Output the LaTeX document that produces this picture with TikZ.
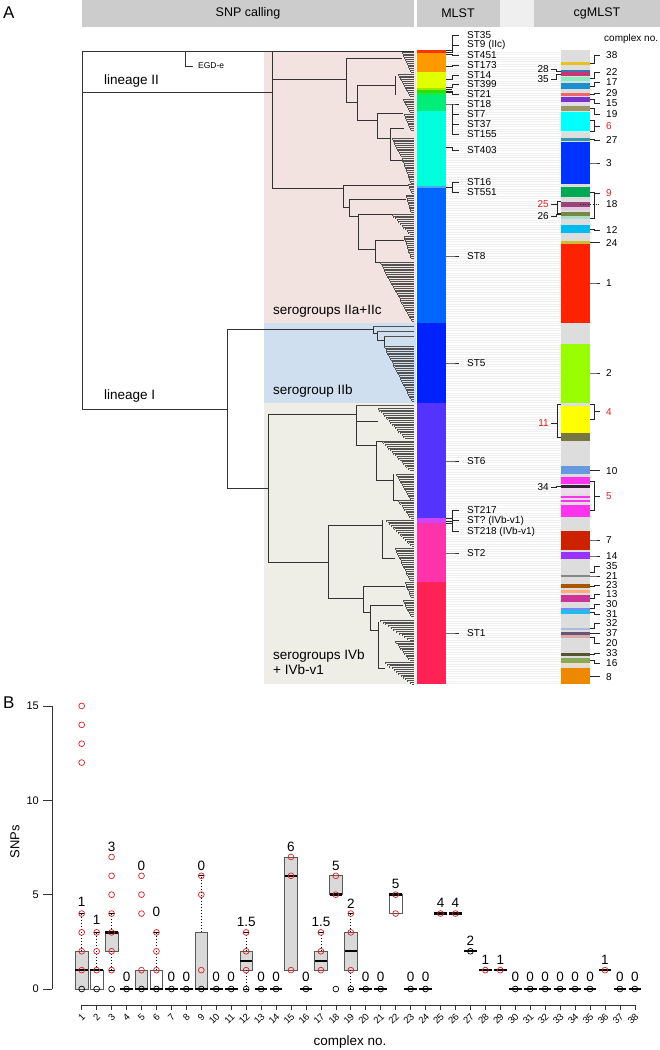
\documentclass[tikz,border=0pt]{standalone}
\usepackage{fontspec}
\setmainfont{Liberation Sans}
\definecolor{hdr}{HTML}{CCCCCC}
\definecolor{hdrl}{HTML}{EFEFEF}
\definecolor{pinkbg}{HTML}{F2E2E0}
\definecolor{bluebg}{HTML}{CFDFF0}
\definecolor{beigebg}{HTML}{EEEEE6}
\definecolor{cgbg}{HTML}{DDDDDD}
\definecolor{myred}{HTML}{E02020}
\definecolor{boxg}{HTML}{D9D9D9}
\tikzset{
  branch/.style={draw=black!80, line width=0.7pt},
  tipl/.style={draw=black!68, line width=0.45pt},
  ld/.style={draw=black!85, line width=0.6pt},
  stlab/.style={font=\fontsize{10}{10}\selectfont, inner sep=0pt, anchor=west},
  clab/.style={font=\fontsize{10}{10}\selectfont, inner sep=0pt},
  grplab/.style={font=\fontsize{13.5}{15}\selectfont, inner sep=0pt, anchor=west, align=left},
  hlab/.style={font=\fontsize{12.5}{13}\selectfont, inner sep=0pt},
  boxst/.style={draw=black!65, line width=0.7pt},
  medline/.style={draw=black, line width=2.4pt},
  whisk/.style={draw=black, line width=0.7pt, dash pattern=on 1pt off 2pt},
  staple/.style={draw=black, line width=0.7pt},
  circ/.style={line width=0.7pt},
  medlab/.style={font=\fontsize{13.5}{14}\selectfont, inner sep=0pt},
  declare function={px(\i)=81.7+14.95*(\i-1); py(\v)=989-18.87*\v;}
}
% tree comb (caterpillar clade)
\newcommand{\comb}[4]{%
 \pgfmathtruncatemacro{\cn}{max(1,(#3-#2)/1.7)}%
 \foreach \k in {0,...,\cn}{%
   \pgfmathsetmacro{\cy}{#2+\k*(#3-#2)/\cn}%
   \pgfmathsetmacro{\cx}{#1+\k*(#4-#1)/\cn}%
   \pgfmathsetmacro{\cyn}{#2+(\k+1)*(#3-#2)/\cn}%
   \draw[tipl] (\cx,\cy) -- (414,\cy);
   \ifnum\k<\cn \draw[tipl] (\cx,\cy) -- (\cx,\cyn);\fi
 }}
\newcommand{\band}[3]{\definecolor{bandc}{HTML}{#3}\fill[bandc] (561,#1) rectangle (590,#2);}
\newcommand{\mband}[3]{\definecolor{bandc}{HTML}{#3}\fill[bandc] (417,#1) rectangle (446,#2);}
% MLST labels: name, text, label y, bar y
\newcommand{\stl}[4]{\node[stlab] (#1) at (467,#3) {#2}; \draw[ld] (446,#4) -- (452,#4) -- (452,#3) -- (459,#3);}
% cgMLST right label: [colour] text, label y, band y
\newcommand{\cgR}[4][black]{\node[clab,text=#1,anchor=west] (r#2) at (606,#3) {#2}; \draw[ld] (590,#4) -- (594.5,#4) -- (594.5,#3) -- (600,#3);}
% right bracket: [colour] text, label y, y1, y2
\newcommand{\cgRB}[5][myred]{\node[clab,text=#1,anchor=west] (r#2) at (606,#3) {#2}; \draw[ld] (590,#4) -- (594.5,#4) -- (594.5,#5) -- (590,#5); \draw[ld] (594.5,#3) -- (600,#3);}
% left label
\newcommand{\cgL}[4][black]{\node[clab,text=#1,anchor=east] (l#2) at (549,#3) {#2}; \draw[ld] (561,#4) -- (556,#4) -- (556,#3) -- (551,#3);}
\newcommand{\cgLB}[5][myred]{\node[clab,text=#1,anchor=east] (l#2) at (549,#3) {#2}; \draw[ld] (561,#4) -- (557,#4) -- (557,#5) -- (561,#5); \draw[ld] (557,#3) -- (551,#3);}
% boxplot helpers
\newcommand{\boxr}[4]{\draw[boxst,fill=#4] ({px(#1)-6.3},{py(#2)}) rectangle ({px(#1)+6.3},{py(#3)});}
\newcommand{\whisk}[3]{\draw[whisk] ({px(#1)},{py(#2)}) -- ({px(#1)},{py(#3)}); \draw[staple] ({px(#1)-3},{py(#3)}) -- ({px(#1)+3},{py(#3)});}
\newcommand{\med}[2]{\draw[medline] ({px(#1)-6.3},{py(#2)}) -- ({px(#1)+6.3},{py(#2)});}
\newcommand{\rp}[2]{\draw[circ,draw=myred] ({px(#1)},{py(#2)}) circle (2.9);}
\newcommand{\bp}[2]{\draw[circ,draw=black] ({px(#1)},{py(#2)}) circle (2.9);}
\newcommand{\mlab}[3]{\node[medlab] (m#1) at ({px(#1)},#3) {#2};}
\newcommand{\zero}[1]{\med{#1}{0}\bp{#1}{0}\mlab{#1}{0}{976.7}}
\begin{document}
\begin{tikzpicture}[x=1pt,y=-1pt]
\useasboundingbox (0,0) rectangle (660,1050);
\fill[white] (0,0) rectangle (660,1050);
% ---------- panel labels ----------
\node[font=\fontsize{17}{18}\selectfont, inner sep=0pt, anchor=west] (pA) at (3,13) {A};
\node[font=\fontsize{17}{18}\selectfont, inner sep=0pt, anchor=west] (pB) at (3,703) {B};
% ---------- header ----------
\fill[hdr] (82,0) rectangle (414,27);
\fill[hdr] (417,0) rectangle (500,27);
\fill[hdrl] (500,0) rectangle (534,27);
\fill[hdr] (534,0) rectangle (660,27);
\node[hlab] (h1) at (248,13.5) {SNP calling};
\node[hlab] (h2) at (458,13.5) {MLST};
\node[hlab] (h3) at (597,13.5) {cgMLST};
% ---------- backgrounds ----------
\fill[pinkbg] (264,51) rectangle (416,323);
\fill[bluebg] (264,323) rectangle (416,403);
\fill[beigebg] (264,403) rectangle (416,684);
\foreach \yy in {52,54.4,...,684} \draw[black!6, line width=0.5pt] (446,\yy) -- (561,\yy);
% ---------- tree: deep branches ----------
\draw[branch] (82,51) -- (82,409);
\draw[branch] (82,51) -- (414,51);
\draw[branch] (185.5,51) -- (185.5,66) -- (192.5,66);
\node[font=\fontsize{8.5}{9}\selectfont, inner sep=0pt, anchor=west] (egd) at (198,66) {EGD-e};
\draw[branch] (82,92) -- (272,92);
\draw[branch] (82,409) -- (227,409);
\draw[branch] (227,329) -- (227,488);
% lineage II
\draw[branch] (272,51) -- (272,188);
\draw[branch] (272,79) -- (346,79);
\draw[branch] (346,58) -- (346,102);
\draw[branch] (346,58) -- (402,58);
\comb{402}{52}{72}{411}
\draw[branch] (346,102) -- (357,102);
\draw[branch] (357,85) -- (357,120);
\draw[branch] (357,85) -- (395,85);
\draw[branch] (395,76) -- (395,95);
\comb{398}{74}{96}{410}
\draw[branch] (357,120) -- (377,120);
\draw[branch] (377,113) -- (377,138);
\draw[branch] (377,113) -- (403,113);
\comb{403}{99}{112}{410}
\draw[branch] (377,138) -- (390,138);
\draw[branch] (390,128) -- (390,160);
\draw[branch] (390,128) -- (404,128);
\comb{404}{114}{130}{411}
\comb{392}{138}{156}{401}
\draw[branch] (390,160) -- (402,160);
\comb{402}{158}{183}{411}
\draw[branch] (272,188) -- (343,188);
\draw[branch] (343,185) -- (343,207);
\draw[branch] (343,185) -- (408,185);
\comb{408}{184}{193}{412}
\draw[branch] (343,207) -- (349,207);
\draw[branch] (349,199) -- (349,216);
\draw[branch] (349,199) -- (406,199);
\comb{406}{195}{212}{411}
\draw[branch] (349,216) -- (358,216);
\draw[branch] (358,214) -- (358,249);
\draw[branch] (358,214) -- (392,214);
\comb{392}{214}{234}{410}
\draw[branch] (358,249) -- (375,249);
\draw[branch] (375,240) -- (375,262);
\draw[branch] (375,240) -- (404,240);
\comb{404}{236}{258}{411}
\draw[branch] (375,262) -- (380,262);
\comb{380}{262}{321}{412}
% lineage I, IIb
\draw[branch] (227,329) -- (373,329);
\draw[branch] (373,326) -- (373,333);
\draw[tipl] (373,326) -- (414,326);
\draw[branch] (373,333) -- (377,333);
\draw[branch] (377,331) -- (377,340);
\draw[tipl] (377,331) -- (414,331);
\draw[branch] (377,340) -- (384,340);
\draw[branch] (384,336) -- (384,346);
\draw[tipl] (384,336) -- (414,336);
\comb{384}{346}{401}{412}
% IVb
\draw[branch] (227,488) -- (268,488);
\draw[branch] (268,414) -- (268,562);
\draw[branch] (268,414) -- (356,414);
\draw[branch] (356,405) -- (356,445);
\draw[tipl] (356,405) -- (414,405);
\comb{378}{408}{438}{405}
\draw[branch] (356,421) -- (378,421);
\draw[branch] (356,445) -- (376,445);
\draw[branch] (376,441) -- (376,480);
\comb{382}{441}{470}{410}
\draw[branch] (376,441) -- (382,441);
\draw[branch] (376,480) -- (393,480);
\draw[branch] (393,474) -- (393,500);
\comb{396}{474}{500}{411}
\draw[branch] (393,500) -- (398,500);
\comb{398}{500}{518}{411}
\draw[branch] (268,562) -- (328,562);
\draw[branch] (328,525) -- (328,598);
\draw[branch] (328,525) -- (382,525);
\draw[branch] (382,520) -- (382,558);
\comb{386}{520}{546}{412}
\draw[branch] (382,558) -- (395,558);
\comb{395}{548}{580}{410}
\draw[branch] (328,598) -- (363,598);
\draw[branch] (363,586) -- (363,612);
\draw[branch] (363,586) -- (405,586);
\comb{405}{582}{597}{411}
\draw[branch] (363,612) -- (370,612);
\draw[branch] (370,605) -- (370,630);
\draw[branch] (370,605) -- (403,605);
\comb{403}{600}{616}{411}
\draw[branch] (370,630) -- (378,630);
\draw[branch] (378,622) -- (378,668);
\comb{380}{620}{640}{410}
\comb{395}{641}{660}{410}
\draw[branch] (378,668) -- (385,668);
\comb{385}{662}{684}{412}
% group labels
\node[grplab] (lin2) at (104,81) {lineage II};
\node[grplab] (lin1) at (104,396) {lineage I};
\node[grplab] (sg1) at (273,311) {serogroups IIa+IIc};
\node[grplab] (sg2) at (273,391) {serogroup IIb};
\node[grplab] (sg3) at (273,662) {serogroups IVb\\+ IVb-v1};
% ---------- MLST bar ----------
\mband{50}{53}{FF3300}
\mband{53}{72}{FF9900}
\mband{72}{88}{E2FF00}
\mband{88}{90}{99EE00}
\mband{90}{93}{33DD00}
\mband{93}{95}{11EE44}
\mband{95}{111}{00EE77}
\mband{111}{186}{00FFDD}
\mband{186}{188}{44AAFF}
\mband{188}{323}{0066FF}
\mband{323}{403}{0022FF}
\mband{403}{518}{5533FF}
\mband{518}{523}{CC44FF}
\mband{523}{582}{FF33AA}
\mband{582}{684}{FF2255}
% ST labels
\stl{st35}{ST35}{35}{50.5}
\stl{st9}{ST9 (IIc)}{45}{52}
\stl{st451}{ST451}{55}{54}
\stl{st173}{ST173}{65}{66}
\stl{st14}{ST14}{75}{79}
\stl{st399}{ST399}{84.5}{87}
\stl{st21}{ST21}{94}{91}
\draw[ld] (446,89.5) -- (452,89.5);
\draw[ld] (446,92.5) -- (452,92.5);
\stl{st18}{ST18}{104}{104}
\draw[ld] (452,104) -- (452,134);
\node[stlab] (st7) at (467,114) {ST7};
\draw[ld] (452,114) -- (459,114);
\node[stlab] (st37) at (467,124) {ST37};
\draw[ld] (452,124) -- (459,124);
\node[stlab] (st155) at (467,134) {ST155};
\draw[ld] (452,134) -- (459,134);
\stl{st403}{ST403}{150}{147}
\node[stlab] (st16) at (467,182) {ST16};
\node[stlab] (st551) at (467,192) {ST551};
\draw[ld] (459,182) -- (452,182) -- (452,192) -- (459,192);
\draw[ld] (446,187) -- (452,187);
\stl{st8}{ST8}{256}{256}
\stl{st5}{ST5}{363}{363}
\stl{st6}{ST6}{461}{461}
\node[stlab] (st217) at (467,510) {ST217};
\node[stlab] (stq) at (467,520.5) {ST? (IVb-v1)};
\node[stlab] (st218) at (467,531.5) {ST218 (IVb-v1)};
\draw[ld] (459,510) -- (452,510) -- (452,531.5) -- (459,531.5);
\draw[ld] (452,520.5) -- (459,520.5);
\draw[ld] (446,518) -- (452,518);
\draw[ld] (446,521) -- (452,521);
\draw[ld] (446,523.5) -- (452,523.5);
\stl{st2}{ST2}{553}{553}
\stl{st1}{ST1}{633}{633}
% ---------- cgMLST column ----------
\fill[cgbg] (561,50) rectangle (590,684);
\band{62}{64.5}{E8C020}
\band{70}{72}{3A76A8}
\band{72}{75.5}{CC3377}
\band{77}{80.5}{88EEBB}
\band{83}{89}{1A8FD0}
\band{92.5}{95.5}{EE6666}
\band{97}{101.7}{7733CC}
\band{101.7}{105}{E4DCEE}
\band{105.7}{111}{999966}
\band{111.7}{130.7}{00FFFF}
\band{130.7}{132}{AAFFFF}
\band{138}{140.5}{3399AA}
\band{141.7}{184}{0033FF}
\band{187}{197}{00AA55}
\band{201.7}{206.7}{994477}
\band{206.7}{210}{E6C4E6}
\band{212}{215.7}{778844}
\band{216}{219}{AADDCC}
\band{225}{232.7}{00BBEE}
\band{241}{244}{CCBB33}
\band{244}{323}{FF2200}
\band{344}{403}{99FF00}
\band{406}{432.7}{FFFF00}
\band{433}{440.7}{777744}
\band{465.7}{474}{6699DD}
\band{477}{484}{FF33EE}
\band{485}{487.5}{332233}
\band{487.5}{494}{EEDBEE}
\band{495.5}{497.5}{FF33EE}
\band{499.5}{501.5}{FF33EE}
\band{505}{517}{FF33EE}
\band{530.7}{550}{CC2200}
\band{552}{559}{9933FF}
\band{575}{577}{888888}
\band{584}{587.7}{AA5500}
\band{590}{593}{FFAA77}
\band{595}{601.7}{CC3399}
\band{607.7}{610}{7788EE}
\band{610}{613.7}{22BBEE}
\band{627.7}{630}{AABBDD}
\band{632}{634.7}{665577}
\band{635}{638}{DDAAAA}
\band{653.3}{655.7}{555533}
\band{658}{663}{88AA55}
\band{663}{666}{EEDDCC}
\band{667.7}{684.3}{EE8800}
\node[clab,anchor=west] (cxno) at (604,39) {complex no.};
\cgR{38}{55}{63}
\cgR{22}{72}{78}
\cgR{17}{82}{86}
\cgR{29}{93}{94}
\cgR{15}{103}{99.5}
\cgR{19}{114}{108}
\cgRB{6}{126.5}{120.7}{131.7}
\cgR{27}{140}{139.5}
\cgR{3}{163}{163}
\cgRB{9}{193}{192}{218}
\node[clab,anchor=west] (r18) at (606,204) {18};
\draw[ld, dotted] (580,204) -- (600,204);
\cgR{12}{230}{229}
\cgR{24}{242.7}{242.5}
\cgR{1}{283}{283}
\cgR{2}{373}{373}
\cgRB{4}{411.7}{404}{419}
\cgR{10}{470.7}{470}
\cgRB{5}{496}{481}{510.7}
\cgR{7}{540}{540}
\cgR{14}{556}{556}
\cgR{35}{566}{572}
\cgR{21}{576}{576}
\cgR{23}{585}{586}
\cgR{13}{594.5}{598}
\cgR{30}{604}{608.5}
\cgR{31}{614}{612}
\cgR{32}{623.3}{628.5}
\cgR{37}{633.3}{633.3}
\cgR{20}{643}{637}
\cgR{33}{653}{654.5}
\cgR{16}{663}{660}
\cgR{8}{676.7}{676}
\cgL{28}{69.3}{71}
\cgL{35}{79.3}{74}
\cgLB{25}{204}{201}{213}
\cgL{26}{216}{214}
\cgLB{11}{423}{404}{437}
\cgL{34}{487}{486}
% ---------- panel B: axes ----------
\draw[black!80, line width=0.7pt] (52,{py(0)}) -- (52,{py(15)});
\foreach \v in {0,5,10,15} {
  \draw[black!80, line width=0.7pt] (43,{py(\v)}) -- (52,{py(\v)});
  \node[font=\fontsize{11}{12}\selectfont, inner sep=0pt, anchor=east] (yt\v) at (39,{py(\v)}) {\v};
}
\node[font=\fontsize{13}{14}\selectfont, inner sep=0pt, rotate=90] (snps) at (15,842) {SNPs};
\draw[black!80, line width=0.7pt] ({px(1)},1005) -- ({px(38)},1005);
\foreach \i in {1,...,38} {
  \draw[black!80, line width=0.7pt] ({px(\i)},1005) -- ({px(\i)},1010);
  \node[font=\fontsize{9.5}{10}\selectfont, inner sep=0pt, rotate=45, anchor=east] (xt\i) at ({px(\i)+2},1015) {\i};
}
\node[font=\fontsize{13.5}{14}\selectfont, inner sep=0pt] (cxlab) at (350,1042) {complex no.};
% ---------- boxes ----------
% 1
\boxr{1}{0}{2}{boxg}\whisk{1}{2}{4}\med{1}{1}
\rp{1}{15}\rp{1}{14}\rp{1}{13}\rp{1}{12}\rp{1}{4}\rp{1}{3}\rp{1}{2}\rp{1}{1}\bp{1}{0}
\mlab{1}{1}{902}
% 2
\boxr{2}{0}{1}{white}\whisk{2}{1}{3}\med{2}{1}
\rp{2}{3}\rp{2}{2}\rp{2}{1}\bp{2}{0}\mlab{2}{1}{920}
% 3
\boxr{3}{2}{3}{boxg}\whisk{3}{3}{4}\whisk{3}{2}{1}\med{3}{3}
\rp{3}{7}\rp{3}{6}\rp{3}{5}\rp{3}{4}\rp{3}{3}\rp{3}{2}\rp{3}{1}\bp{3}{0}\mlab{3}{3}{846.7}
% 4
\zero{4}
% 5
\boxr{5}{0}{1}{boxg}\med{5}{0}
\rp{5}{6}\rp{5}{5}\rp{5}{4}\rp{5}{1}\bp{5}{0}\mlab{5}{0}{865.7}
% 6
\boxr{6}{0}{1}{white}\whisk{6}{1}{3}\med{6}{0}
\rp{6}{3}\rp{6}{2}\rp{6}{1}\bp{6}{0}\mlab{6}{0}{911.7}
\zero{7}\zero{8}
% 9
\boxr{9}{0}{3}{boxg}\whisk{9}{3}{6}\med{9}{0}
\rp{9}{6}\rp{9}{5}\rp{9}{1}\bp{9}{0}\mlab{9}{0}{865.7}
\zero{10}\zero{11}
% 12
\boxr{12}{1}{2}{boxg}\whisk{12}{2}{3}\whisk{12}{1}{0}\med{12}{1.5}
\rp{12}{3}\rp{12}{2}\rp{12}{1}\bp{12}{0}\mlab{12}{1.5}{922.3}
\zero{13}\zero{14}
% 15
\boxr{15}{1}{7}{boxg}\med{15}{6}
\rp{15}{7}\rp{15}{6}\rp{15}{1}\mlab{15}{6}{846.7}
\zero{16}
% 17
\boxr{17}{1}{2}{boxg}\whisk{17}{2}{3}\med{17}{1.5}
\rp{17}{3}\rp{17}{2}\rp{17}{1}\mlab{17}{1.5}{922.3}
% 18
\boxr{18}{5}{6}{boxg}\med{18}{5}
\rp{18}{6}\rp{18}{5}\bp{18}{0}\mlab{18}{5}{865.7}
% 19
\boxr{19}{1}{3}{boxg}\whisk{19}{3}{4}\whisk{19}{1}{0}\med{19}{2}
\rp{19}{4}\rp{19}{3}\rp{19}{1}\bp{19}{0}\mlab{19}{2}{903.3}
\zero{20}\zero{21}
% 22
\boxr{22}{4}{5}{white}\med{22}{5}
\rp{22}{5}\rp{22}{4}\mlab{22}{5}{884.3}
\zero{23}\zero{24}
% 25-29
\med{25}{4}\rp{25}{4}\mlab{25}{4}{903.3}
\med{26}{4}\rp{26}{4}\mlab{26}{4}{903.3}
\med{27}{2}\bp{27}{2}\mlab{27}{2}{941}
\med{28}{1}\rp{28}{1}\mlab{28}{1}{960}
\med{29}{1}\rp{29}{1}\mlab{29}{1}{960}
\zero{30}\zero{31}\zero{32}\zero{33}\zero{34}\zero{35}
\med{36}{1}\rp{36}{1}\mlab{36}{1}{960}
\zero{37}\zero{38}
\end{tikzpicture}
\end{document}
